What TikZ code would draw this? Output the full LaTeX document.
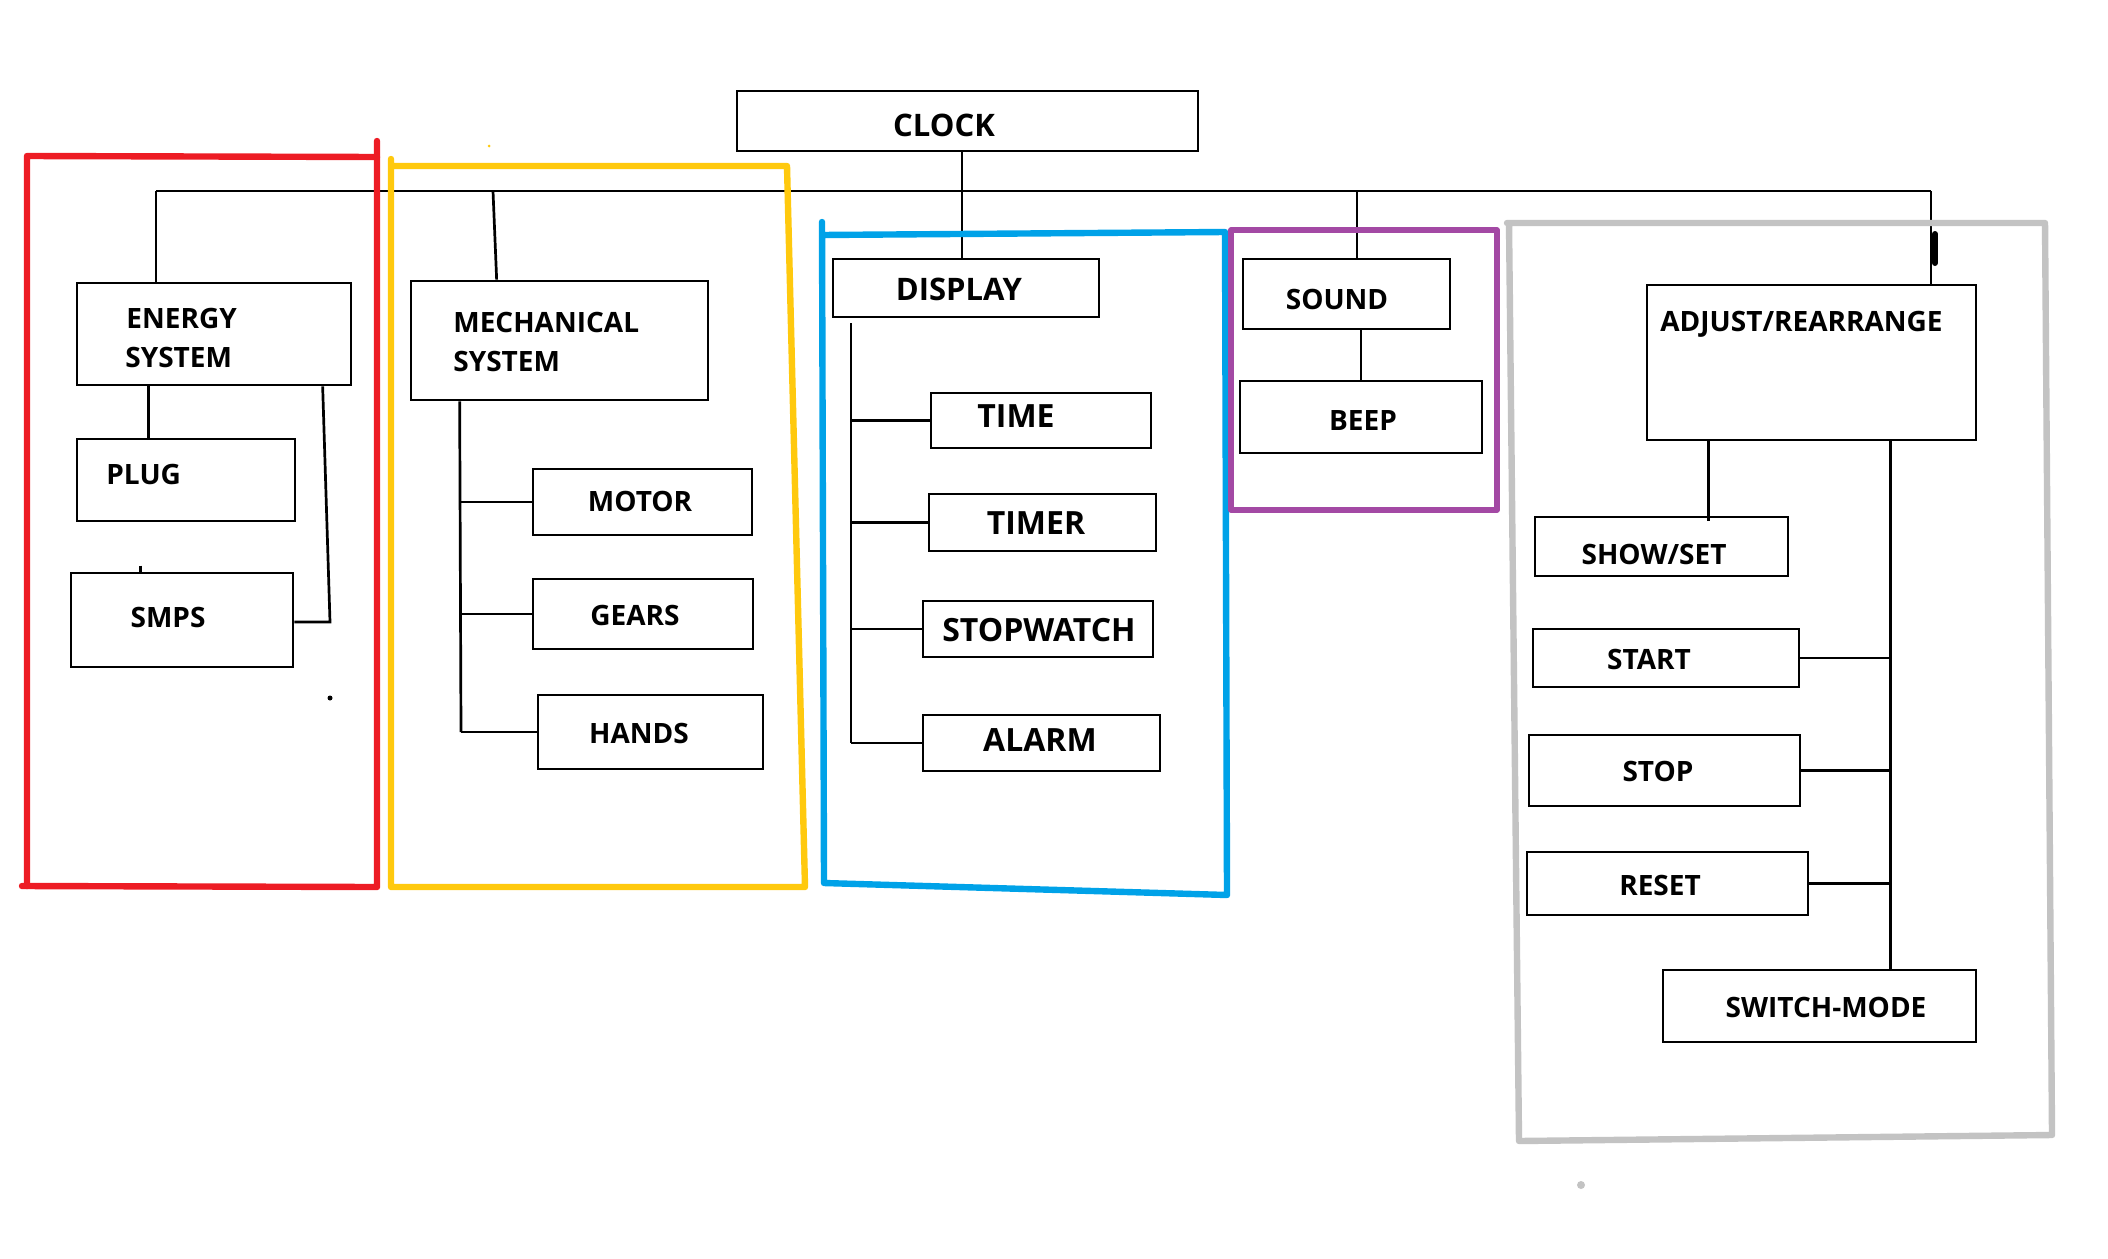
\documentclass[tikz,border=0pt]{standalone}
\usepackage{fontspec}
\setmainfont{Open Sans}
\usetikzlibrary{positioning,fit,calc}
\definecolor{grpred}{RGB}{237,28,36}
\definecolor{grpyellow}{RGB}{255,201,14}
\definecolor{grpblue}{RGB}{0,162,232}
\definecolor{grppurple}{RGB}{163,73,164}
\definecolor{grpgray}{RGB}{195,195,195}

\begin{document}
\begin{tikzpicture}[x=0.5pt,y=-0.5pt,
    box/.style={draw,line width=1.35pt,inner sep=0pt},
    lbl/.style={font=\bfseries\fontsize{14}{17}\selectfont,inner sep=0pt,anchor=base},
    lblbig/.style={lbl,font=\bfseries\fontsize{16}{19}\selectfont},
    lblmid/.style={lbl,font=\bfseries\fontsize{15.5}{18}\selectfont},
    wire/.style={line width=1.35pt},
    group/.style={line width=3.2pt,line cap=round,line join=round}]
    \useasboundingbox (0,0) rectangle (2108,1258);
    % Boxes
    \node[box,fit={(737,91) (1198,151)}] (clock) {};
    \node[box,fit={(77,283) (351,385)}] (energy) {};
    \node[box,fit={(77,439) (295,521)}] (plug) {};
    \node[box,fit={(71,573) (293,667)}] (smps) {};
    \node[box,fit={(411,281) (708,400)}] (mech) {};
    \node[box,fit={(533,469) (752,535)}] (motor) {};
    \node[box,fit={(533,579) (753,649)}] (gears) {};
    \node[box,fit={(538,695) (763,769)}] (hands) {};
    \node[box,fit={(833,259) (1099,317)}] (display) {};
    \node[box,fit={(931,393) (1151,448)}] (time) {};
    \node[box,fit={(929,494) (1156,551)}] (timer) {};
    \node[box,fit={(923,601) (1153,657)}] (stopwatch) {};
    \node[box,fit={(923,715) (1160,771)}] (alarm) {};
    \node[box,fit={(1243,259) (1450,329)}] (sound) {};
    \node[box,fit={(1240,381) (1482,453)}] (beep) {};
    \node[box,fit={(1647,285) (1976,440)}] (adjust) {};
    \node[box,fit={(1535,517) (1788,576)}] (showset) {};
    \node[box,fit={(1533,629) (1799,687)}] (start) {};
    \node[box,fit={(1529,735) (1800,806)}] (stop) {};
    \node[box,fit={(1527,852) (1808,915)}] (reset) {};
    \node[box,fit={(1663,970) (1976,1042)}] (switch) {};
    % Labels
    \node[lblmid] (clockl) at (944,136) {CLOCK};
    \node[lbl,anchor=base west] (energyl) at (126,328) {ENERGY};
    \node[lbl,anchor=base west] (energyll) at (125,367) {SYSTEM};
    \node[lbl,anchor=base west] (plugl) at (106,484) {PLUG};
    \node[lbl] (smpsl) at (168,627) {SMPS};
    \node[lbl,anchor=base west] (mechl) at (453,332) {MECHANICAL};
    \node[lbl,anchor=base west] (mechll) at (453,371) {SYSTEM};
    \node[lbl] (motorl) at (640,511) {MOTOR};
    \node[lbl] (gearsl) at (635,625) {GEARS};
    \node[lbl] (handsl) at (639,743) {HANDS};
    \node[lblmid] (displayl) at (959,300) {DISPLAY};
    \node[lblbig] (timel) at (1016,427) {TIME};
    \node[lblbig] (timerl) at (1036,534) {TIMER};
    \node[lblbig] (stopwatchl) at (1039,641) {STOPWATCH};
    \node[lblbig] (alarml) at (1040,751) {ALARM};
    \node[lbl] (soundl) at (1337,309) {SOUND};
    \node[lbl] (beepl) at (1363,430) {BEEP};
    \node[lbl,anchor=base west] (adjustl) at (1660,331) {ADJUST/REARRANGE};
    \node[lbl] (showsetl) at (1654,564) {SHOW/SET};
    \node[lbl] (startl) at (1649,669) {START};
    \node[lbl] (stopl) at (1658,781) {STOP};
    \node[lbl] (resetl) at (1660,895) {RESET};
    \node[lbl] (switchl) at (1826,1017) {SWITCH-MODE};
    % Main bus
    \coordinate (jE) at (156,191);
    \coordinate (jM) at (493,191);
    \coordinate (jC) at (962,191);
    \coordinate (jS) at (1357,191);
    \coordinate (jA) at (1931,191);
    \draw[wire] (jE) -- (jA);
    \draw[wire] (jE) -- (energy.north -| jE);
    \draw[wire] (jM) -- ($(mech.north west)+(87,0)$);
    \draw[wire] (clock.south -| jC) -- (display.north -| jC);
    \draw[wire] (jS) -- (sound.north -| jS);
    \draw[wire] (jA) -- (adjust.north -| jA);
    \draw[line width=3pt,line cap=round] ($(jA)+(4,43)$) -- ($(jA)+(4,72)$);
    % Energy system
    \coordinate (eR) at (330,622);
    \draw[wire] ($(energy.south west)+(73,0)$) -- ($(plug.north west)+(73,0)$);
    \draw[wire] ($(energy.south west)+(247,0)$) -- (eR) -- (smps.east |- eR);
    \draw[wire] ($(smps.north west)+(71,-6)$) -- ++(0,8);
    \fill ($(eR)+(0,76)$) circle (2.5);
    % Mechanical system
    \coordinate (mB) at (461,732);
    \draw[wire] ($(mech.south west)+(50,0)$) -- (mB);
    \foreach \n in {motor,gears,hands}
        \draw[wire] (\n.west -| mB) -- (\n.west);
    % Display
    \coordinate (dT) at (851,323);
    \draw[wire] (dT) -- (alarm.west -| dT);
    \foreach \n in {time,timer,stopwatch,alarm}
        \draw[wire] (\n.west -| dT) -- (\n.west);
    % Sound
    \draw[wire] (beep.north) -- (beep.north |- sound.south);
    % Adjust
    \coordinate (aL) at ($(adjust.south west)+(63,0)$);
    \coordinate (aR) at ($(adjust.south west)+(245,0)$);
    \draw[wire] (aL) -- ($(showset.north -| aL)+(0,5)$);
    \draw[wire] (aR) -- (switch.north -| aR);
    \foreach \n in {start,stop,reset}
        \draw[wire] (\n.east) -- (\n.east -| aR);
    % Groups
    \draw[group,grpred] (377,141) -- (377,887) -- (22,886);
    \draw[group,grpred] (27,886) -- (27,156) -- (377,157);
    \draw[group,grpyellow] (391,159) -- (391,887) -- (805,887) -- (787,166) -- (391,166);
    \draw[group,grpblue] (822,222) -- (824,883) -- (1227,895) -- (1225,232) -- (822,235);
    \draw[group,grppurple,line width=2.8pt] (1231,230) rectangle (1497,510);
    \draw[group,grpgray] (1507,223) -- (2045,223) -- (2052,1135) -- (1519,1141) -- (1509,223);
    \fill[grpgray] (1581,1185) circle (4);
    \fill[grpyellow] (489,146) circle (1.5);
\end{tikzpicture}
\end{document}
